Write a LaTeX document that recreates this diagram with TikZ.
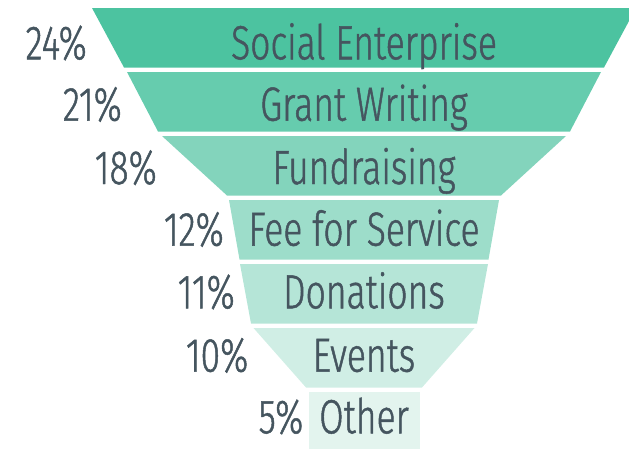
\documentclass[tikz,border=0pt]{standalone}
\usepackage{fontspec}
\setmainfont{Fira Sans Light}[FakeStretch=0.74, FakeBold=1]
\usepackage{xcolor}

\definecolor{bandA}{HTML}{4CC3A0}
\definecolor{bandB}{HTML}{66CCAE}
\definecolor{bandC}{HTML}{83D4BC}
\definecolor{bandD}{HTML}{9DDDCA}
\definecolor{bandE}{HTML}{B5E5D7}
\definecolor{bandF}{HTML}{D0EEE5}
\definecolor{bandG}{HTML}{E3F4EE}
\definecolor{slate}{HTML}{45555F}

\tikzset{
  lbl/.style={anchor=base, inner sep=0pt, text=slate, font=\fontsize{48}{50}\selectfont},
  pct/.style={lbl, anchor=base east}
}

\begin{document}
\begin{tikzpicture}[x=1pt,y=-1pt]
\useasboundingbox (0,0) rectangle (629,448);
\clip (0,0) rectangle (629,448);

% funnel bands: name / top / top half width / bottom half width / text baseline / colour / share / label
\foreach \n/\yt/\wt/\wb/\bl/\col/\p/\txt in {
  se/8/272/240/59.3/bandA/24/Social Enterprise,
  gw/72/237/206/120.7/bandB/21/Grant Writing,
  fr/136/202/137/184/bandC/18/Fundraising,
  fs/200/135/124.5/245.7/bandD/12/Fee for Service,
  dn/264/124/113/308.3/bandE/11/Donations,
  ev/328/110.5/58/371.7/bandF/10/Events,
  ot/392/55.5/55.5/433.3/bandG/5/Other}
{
  \fill[\col] (364-\wt,\yt) -- (364+\wt,\yt) -- (364+\wb,\yt+59.5) -- (364-\wb,\yt+59.5) -- cycle;
  \node[lbl] (\n) at (364,\bl) {\txt};
  \node[pct] (\n-pct) at (364-\wt-5,\bl) {\p\%};
}

\end{tikzpicture}
\end{document}
